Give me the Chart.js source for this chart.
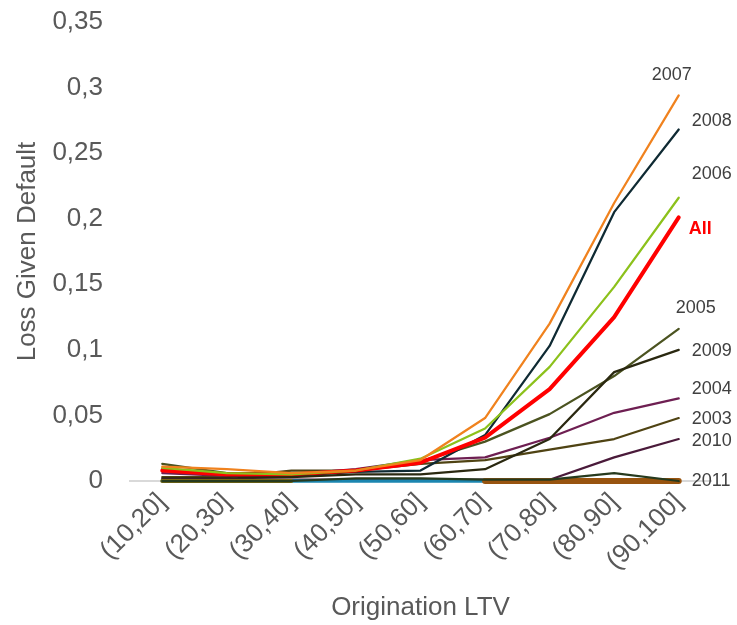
<!DOCTYPE html>
<html>
<head>
<meta charset="utf-8">
<script src="https://cdn.jsdelivr.net/npm/chart.js@4/dist/chart.umd.min.js"></script>
<style>
  html, body { margin: 0; padding: 0; background: #ffffff; }
  #wrap { width: 737px; height: 625px; }
</style>
</head>
<body>
<div id="wrap"><canvas id="lgd"></canvas></div>
<script>
// Origination LTV buckets
const categories = ['(10,20]', '(20,30]', '(30,40]', '(40,50]', '(50,60]', '(60,70]', '(70,80]', '(80,90]', '(90,100]'];

// Loss given default by origination year
const lgd2003 = [0.003, 0.003, 0.008, 0.008, 0.013, 0.016, 0.024, 0.032, 0.048];
const lgd2004 = [0.006, 0.004, 0.005, 0.009, 0.016, 0.018, 0.033, 0.052, 0.063];
const lgd2005 = [0.013, 0.006, 0.006, 0.008, 0.015, 0.030, 0.051, 0.080, 0.116];
const lgd2006 = [0.010, 0.006, 0.005, 0.008, 0.017, 0.040, 0.087, 0.148, 0.216];
const lgd2007 = [0.011, 0.009, 0.006, 0.008, 0.016, 0.048, 0.120, 0.212, 0.294];
const lgd2008 = [0.009, 0.004, 0.004, 0.007, 0.008, 0.035, 0.103, 0.205, 0.268];
const lgd2009 = [0.002, 0.002, 0.003, 0.005, 0.005, 0.009, 0.032, 0.083, 0.100];
const lgd2010 = [0.001, 0.001, 0.001, 0.001, 0.001, 0.001, 0.001, 0.018, 0.032];
const lgd2011 = [0.000, 0.000, 0.000, 0.002, 0.002, 0.001, 0.001, 0.006, 0.000];
const lgd2012 = [0, 0, 0, 0, 0, 0, 0, 0, 0];
const lgd2013 = [null, null, null, null, null, 0, 0, 0, 0];
const lgd2002 = [0, 0, 0, null, null, null, null, null, null];
const lgdAll  = [0.008, 0.005, 0.005, 0.008, 0.014, 0.033, 0.070, 0.125, 0.201];

// Y-axis tick values
const yTicks = [0, 0.05, 0.1, 0.15, 0.2, 0.25, 0.3, 0.35];

const FONT = "'Liberation Sans', Arial, Helvetica, sans-serif";
const GREY = '#595959';

function series(label, data, color, width, endLabel) {
  return {
    label: label,
    data: data,
    borderColor: color,
    backgroundColor: color,
    borderWidth: width,
    pointRadius: 0,
    pointHoverRadius: 0,
    tension: 0,
    fill: false,
    spanGaps: false,
    clip: 8,
    borderJoinStyle: 'round',
    borderCapStyle: 'round',
    endLabel: endLabel
  };
}

// Series-name labels placed beside each line's last point
const endLabelPlugin = {
  id: 'endLabels',
  afterDatasetsDraw(chart) {
    const ctx = chart.ctx;
    chart.data.datasets.forEach((ds, i) => {
      const lab = ds.endLabel;
      if (!lab) return;
      const meta = chart.getDatasetMeta(i);
      const pts = meta.data;
      const p = pts[pts.length - 1];
      ctx.save();
      ctx.font = (lab.bold ? 'bold ' : '') + '18px ' + FONT;
      ctx.fillStyle = lab.color || '#404040';
      ctx.textAlign = 'left';
      ctx.textBaseline = 'middle';
      ctx.fillText(ds.label, p.x + lab.dx, p.y + lab.dy);
      ctx.restore();
    });
  }
};

// Listed top-most first (Chart.js paints the first dataset last)
const datasets = [
  series('2011', lgd2011, '#263A1E', 2.25, { dx: 13, dy: 0 }),
  series('2013', lgd2013, '#98540F', 6, null),
  series('2002', lgd2002, '#7A6A12', 4, null),
  series('2012', lgd2012, '#1B86B0', 3.5, null),
  series('2010', lgd2010, '#4A1A3A', 2.25, { dx: 13, dy: 2 }),
  series('2009', lgd2009, '#2A2810', 2.25, { dx: 13, dy: 1 }),
  series('2007', lgd2007, '#F0821E', 2.25, { dx: -27, dy: -20 }),
  series('2006', lgd2006, '#8CC11B', 2.25, { dx: 13, dy: -24 }),
  series('All', lgdAll, '#FF0000', 4, { dx: 10, dy: 12, bold: true, color: '#FF0000' }),
  series('2008', lgd2008, '#0F2A33', 2.25, { dx: 13, dy: -9 }),
  series('2005', lgd2005, '#4B5320', 2.25, { dx: -3, dy: -21 }),
  series('2004', lgd2004, '#6E1F52', 2.25, { dx: 13, dy: -9 }),
  series('2003', lgd2003, '#4F4313', 2.25, { dx: 13, dy: 1 })
];

new Chart(document.getElementById('lgd'), {
  type: 'line',
  data: { labels: categories, datasets: datasets },
  plugins: [endLabelPlugin],
  options: {
    responsive: true,
    maintainAspectRatio: false,
    animation: false,
    events: [],
    layout: { padding: { top: 22, right: 26, left: 0, bottom: 0 } },
    plugins: {
      legend: { display: false },
      tooltip: { enabled: false }
    },
    scales: {
      x: {
        type: 'category',
        offset: true,
        grid: { display: false, drawTicks: false },
        border: { display: true, color: '#D9D9D9', width: 2 },
        ticks: {
          color: GREY,
          font: { family: FONT, size: 26 },
          minRotation: 45,
          maxRotation: 45,
          autoSkip: false,
          padding: 6
        },
        title: {
          display: true,
          text: 'Origination LTV',
          color: GREY,
          font: { family: FONT, size: 26 },
          padding: { top: 0, bottom: 2 }
        },
        afterFit(scale) { scale.height = 144; }
      },
      y: {
        min: 0,
        max: 0.35,
        // invisible tick marks keep the labels clear of the plot edge
        grid: { display: true, color: 'rgba(0,0,0,0)', drawOnChartArea: false, drawTicks: true, tickLength: 27 },
        border: { display: false },
        afterBuildTicks(scale) { scale.ticks = yTicks.map(v => ({ value: v })); },
        ticks: {
          color: GREY,
          font: { family: FONT, size: 26 },
          padding: 0,
          callback: v => String(Math.round(v * 100) / 100).replace('.', ',')
        },
        title: {
          display: true,
          text: 'Loss Given Default',
          color: GREY,
          font: { family: FONT, size: 26 },
          padding: { top: 12, bottom: 0 }
        },
        afterFit(scale) { scale.width = 130; }
      }
    }
  }
});
</script>
</body>
</html>
